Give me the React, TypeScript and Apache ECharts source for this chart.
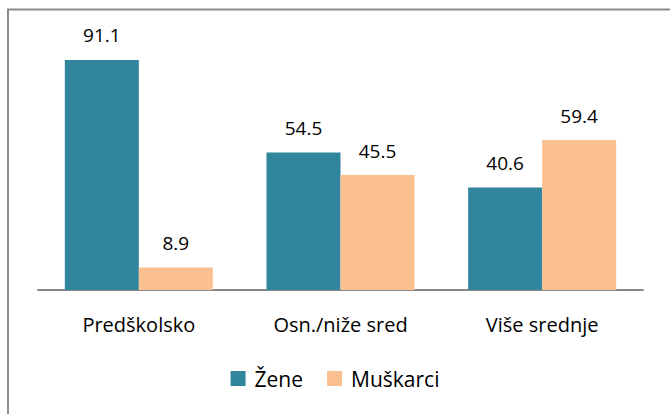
import React, { useEffect, useRef } from "react";
import * as echarts from "echarts";

const categories = ["Predškolsko", "Osn./niže sred", "Više srednje"];
const zene = [91.1, 54.5, 40.6];
const muskarci = [8.9, 45.5, 59.4];
const seriesNames = ["Žene", "Muškarci"];

const FONT = "'Open Sans', 'Noto Sans', sans-serif";

export default function App() {
  const ref = useRef<HTMLDivElement>(null);
  useEffect(() => {
    if (!ref.current) return;
    const chart = echarts.init(ref.current, null, { renderer: "svg" });
    const label = {
      show: true,
      position: "top" as const,
      distance: 15,
      color: "#000",
      fontSize: 19,
      fontFamily: FONT,
      formatter: (p: any) => Number(p.value).toFixed(1),
    };
    chart.setOption({
      animation: false,
      backgroundColor: "#fff",
      graphic: [
        {
          type: "rect",
          shape: { x: 8, y: 9.5, width: 700, height: 500 },
          style: { fill: "none", stroke: "#8c8c8c", lineWidth: 2 },
          silent: true,
        },
      ],
      grid: { left: 38, right: 27, top: 37.5, bottom: 124 },
      xAxis: {
        type: "category",
        data: categories,
        axisLine: { lineStyle: { color: "#888", width: 2 } },
        axisTick: { show: false },
        axisLabel: { color: "#000", fontSize: 20, fontFamily: FONT, margin: 24 },
      },
      yAxis: {
        type: "value",
        min: 0,
        max: 100,
        show: false,
        splitLine: { show: false },
      },
      legend: {
        bottom: 20,
        left: "center",
        itemWidth: 15,
        itemHeight: 15,
        itemGap: 24,
        icon: "rect",
        textStyle: { color: "#000", fontSize: 21, fontFamily: FONT, padding: [0, 0, 0, 4] },
        data: seriesNames,
      },
      series: [
        {
          name: seriesNames[0],
          type: "bar",
          data: zene,
          barWidth: 74,
          barGap: "0%",
          itemStyle: { color: "#31859C" },
          label,
        },
        {
          name: seriesNames[1],
          type: "bar",
          data: muskarci,
          barWidth: 74,
          barGap: "0%",
          itemStyle: { color: "#FAC090" },
          label,
        },
      ],
    });
    return () => chart.dispose();
  }, []);
  return (
    <div
      ref={ref}
      style={{ position: "fixed", left: 0, top: 0, width: 670, height: 414 }}
    />
  );
}
